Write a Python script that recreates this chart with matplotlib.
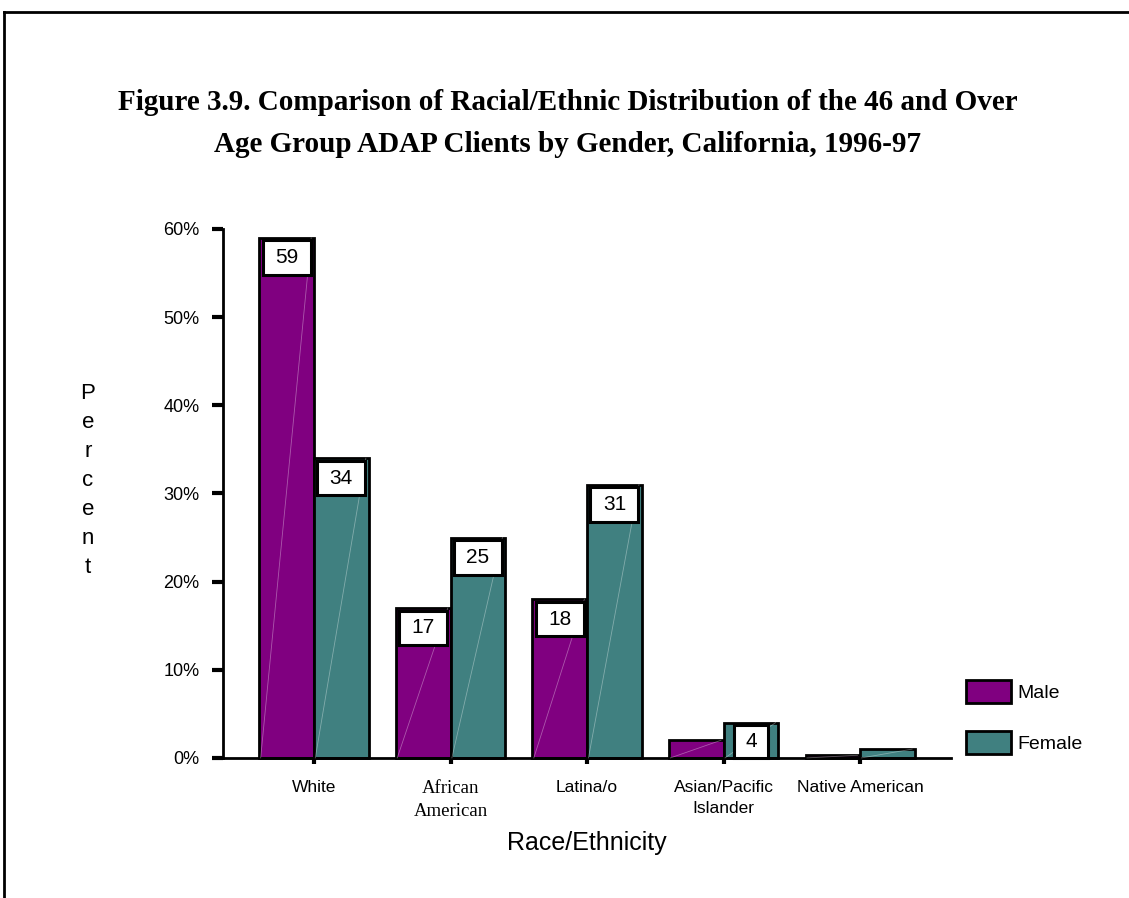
import matplotlib
matplotlib.use('Agg')
import matplotlib.pyplot as plt
from matplotlib.patches import Rectangle, Patch
from matplotlib.lines import Line2D
import numpy as np

# data
groups = ['White', 'African\nAmerican', 'Latina/o', 'Asian/Pacific\nIslander', 'Native American']
male = [59, 17, 18, 2, 0.3]
female = [34, 25, 31, 4, 1]
male_labels = ['59', '17', '18', None, None]
female_labels = ['34', '25', '31', '4', None]
yticks = [0, 10, 20, 30, 40, 50, 60]
ytick_labels = ['0%', '10%', '20%', '30%', '40%', '50%', '60%']

male_color = '#800080'
female_color = '#408080'

plt.rcParams['font.family'] = ['Liberation Sans', 'DejaVu Sans']

fig = plt.figure(figsize=(11.29, 8.98), dpi=100)
ax = fig.add_axes([0.1975, 0.156, 0.645, 0.589])

x = np.arange(len(groups))
w = 0.4

def draw_bars(xs, vals, color):
    for xi, v in zip(xs, vals):
        ax.add_patch(Rectangle((xi, 0), w, v, facecolor=color, edgecolor='black',
                               linewidth=2, clip_on=False, zorder=2))
        # faint highlight streak across the bar face
        ax.plot([xi + 0.01, xi + w - 0.02], [0, v], color='white', lw=0.6,
                alpha=0.35, zorder=3, clip_on=False)

draw_bars(x - w, male, male_color)
draw_bars(x, female, female_color)

# value boxes at the top of the bars
def draw_labels(xs, vals, labels):
    for xi, v, lab in zip(xs, vals, labels):
        if lab is None:
            continue
        bw = 0.35 if len(lab) > 1 else 0.25
        bh = 3.9 if v > 5 else v - 0.3
        cx = xi + w / 2
        ax.add_patch(Rectangle((cx - bw / 2, v - 0.3 - bh), bw, bh, facecolor='white',
                               edgecolor='black', linewidth=2.2, zorder=4, clip_on=False))
        ax.text(cx, v - 0.3 - bh / 2, lab, ha='center', va='center', fontsize=15, zorder=5)

draw_labels(x - w, male, male_labels)
draw_labels(x, female, female_labels)

ax.set_xlim(-0.666, 4.666)
ax.set_ylim(0, 60)
ax.set_yticks(yticks)
ax.set_yticklabels(ytick_labels, fontsize=13)
ax.set_xticks(x)
ax.set_xticklabels([])
ax.tick_params(axis='y', length=8, width=3, direction='out', pad=9)
ax.tick_params(axis='x', length=4, width=3, direction='out')
for s in ['top', 'right']:
    ax.spines[s].set_visible(False)
ax.spines['left'].set_linewidth(2)
ax.spines['bottom'].set_linewidth(2)

# category labels under the axis
for xi, g in zip(x, groups):
    fam = ['Liberation Serif'] if g.startswith('African') else ['Liberation Sans']
    fs = 13.5 if g.startswith('African') else 12.5
    ax.text(xi, -2.5, g, ha='center', va='top', fontsize=fs, family=fam,
            linespacing=1.5, transform=ax.transData)

fig.text(0.52, 0.061, 'Race/Ethnicity', ha='center', va='center', fontsize=18)
fig.text(0.078, 0.465, 'P\ne\nr\nc\ne\nn\nt', ha='center', va='center', fontsize=16,
         linespacing=1.5)

fig.text(0.503, 0.886, 'Figure 3.9. Comparison of Racial/Ethnic Distribution of the 46 and Over',
         ha='center', va='center', fontsize=21, fontweight='bold', family=['Liberation Serif'])
fig.text(0.503, 0.839, 'Age Group ADAP Clients by Gender, California, 1996-97',
         ha='center', va='center', fontsize=21, fontweight='bold', family=['Liberation Serif'])

# legend
handles = [Patch(facecolor=male_color, edgecolor='black', linewidth=2),
           Patch(facecolor=female_color, edgecolor='black', linewidth=2)]
fig.legend(handles, ['Male', 'Female'], loc='upper left', bbox_to_anchor=(0.8401, 0.2622),
           frameon=False, fontsize=14, handlelength=2.3, handleheight=1.45,
           labelspacing=1.45, handletextpad=0.35)

# page frame
fig.add_artist(Line2D([0.0035, 1.0], [0.9865, 0.9865], color='black', lw=2))
fig.add_artist(Line2D([0.0035, 0.0035], [0.0, 0.9865], color='black', lw=2))

fig.savefig('out.png', dpi=100)
